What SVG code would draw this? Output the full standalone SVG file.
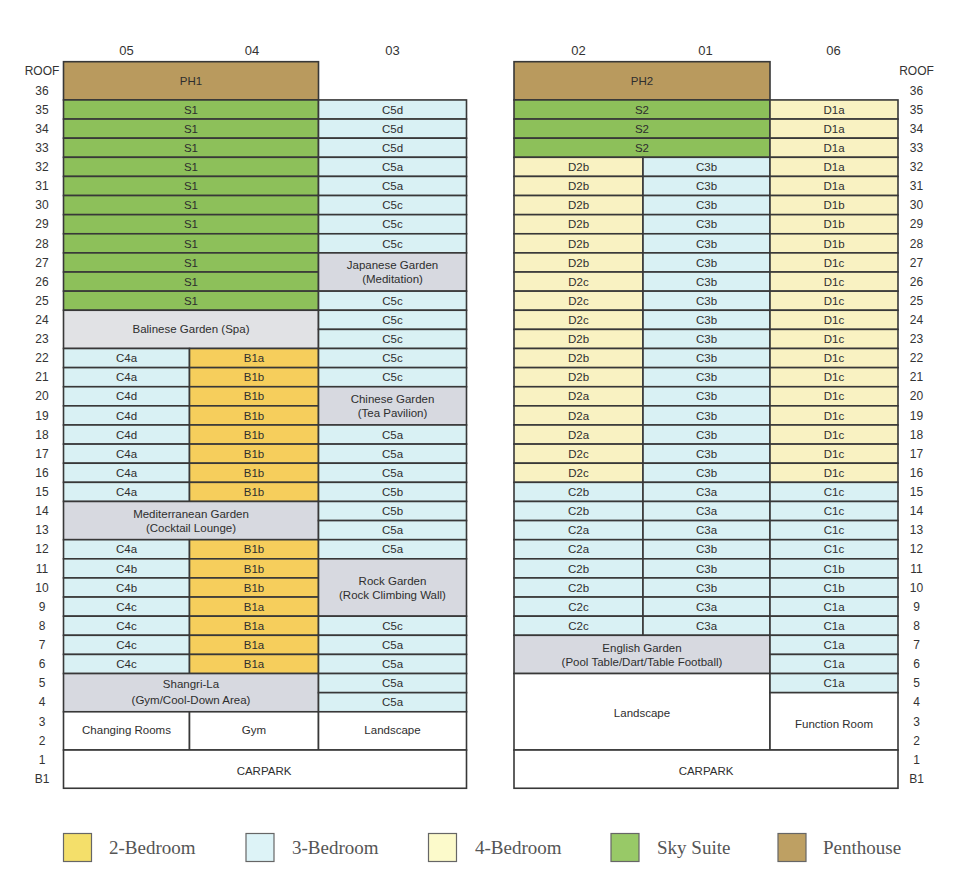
<svg xmlns="http://www.w3.org/2000/svg" width="960" height="893" viewBox="0 0 960 893">
<style>
rect.u{stroke:#383838;stroke-width:1.6}
.p{fill:#b99a5e}.s{fill:#8dc05a}.c3{fill:#d9f1f4}.d4{fill:#f9f2c2}.b2{fill:#f6ce5c}.g{fill:#d7d9e0}.gl{fill:#e1e2e5}.w{fill:#ffffff}
text{font-family:"Liberation Sans",Arial,sans-serif;font-size:11.5px;fill:#2e2e2e;text-anchor:middle}
text.f{font-size:12px;fill:#333}
text.h{font-size:13px;fill:#333}
text.lg{font-family:"Liberation Serif","Times New Roman",serif;font-size:19px;fill:#555;text-anchor:start}
rect.k{stroke:#666;stroke-width:1.2}
</style>
<rect width="960" height="893" fill="#ffffff"/>
<g id="headers">
<text class="h" x="126.5" y="55">05</text><text class="h" x="252" y="55">04</text><text class="h" x="392.5" y="55">03</text>
<text class="h" x="578.5" y="55">02</text><text class="h" x="705.5" y="55">01</text><text class="h" x="833.5" y="55">06</text>
</g>
<g id="floors-left">
<text class="f" x="42" y="75.4">ROOF</text><text class="f" x="42" y="94.5">36</text><text class="f" x="42" y="113.6">35</text><text class="f" x="42" y="132.8">34</text><text class="f" x="42" y="151.9">33</text><text class="f" x="42" y="171">32</text><text class="f" x="42" y="190.1">31</text><text class="f" x="42" y="209.2">30</text><text class="f" x="42" y="228.4">29</text><text class="f" x="42" y="247.5">28</text><text class="f" x="42" y="266.6">27</text><text class="f" x="42" y="285.7">26</text><text class="f" x="42" y="304.8">25</text><text class="f" x="42" y="324">24</text><text class="f" x="42" y="343.1">23</text><text class="f" x="42" y="362.2">22</text><text class="f" x="42" y="381.3">21</text><text class="f" x="42" y="400.4">20</text><text class="f" x="42" y="419.6">19</text><text class="f" x="42" y="438.7">18</text><text class="f" x="42" y="457.8">17</text><text class="f" x="42" y="476.9">16</text><text class="f" x="42" y="496">15</text><text class="f" x="42" y="515.2">14</text><text class="f" x="42" y="534.3">13</text><text class="f" x="42" y="553.4">12</text><text class="f" x="42" y="572.5">11</text><text class="f" x="42" y="591.6">10</text><text class="f" x="42" y="610.8">9</text><text class="f" x="42" y="629.9">8</text><text class="f" x="42" y="649">7</text><text class="f" x="42" y="668.1">6</text><text class="f" x="42" y="687.2">5</text><text class="f" x="42" y="706.4">4</text><text class="f" x="42" y="725.5">3</text><text class="f" x="42" y="744.6">2</text><text class="f" x="42" y="763.7">1</text><text class="f" x="42" y="782.8">B1</text>
</g>
<g id="floors-right">
<text class="f" x="916.5" y="75.4">ROOF</text><text class="f" x="916.5" y="94.5">36</text><text class="f" x="916.5" y="113.6">35</text><text class="f" x="916.5" y="132.8">34</text><text class="f" x="916.5" y="151.9">33</text><text class="f" x="916.5" y="171">32</text><text class="f" x="916.5" y="190.1">31</text><text class="f" x="916.5" y="209.2">30</text><text class="f" x="916.5" y="228.4">29</text><text class="f" x="916.5" y="247.5">28</text><text class="f" x="916.5" y="266.6">27</text><text class="f" x="916.5" y="285.7">26</text><text class="f" x="916.5" y="304.8">25</text><text class="f" x="916.5" y="324">24</text><text class="f" x="916.5" y="343.1">23</text><text class="f" x="916.5" y="362.2">22</text><text class="f" x="916.5" y="381.3">21</text><text class="f" x="916.5" y="400.4">20</text><text class="f" x="916.5" y="419.6">19</text><text class="f" x="916.5" y="438.7">18</text><text class="f" x="916.5" y="457.8">17</text><text class="f" x="916.5" y="476.9">16</text><text class="f" x="916.5" y="496">15</text><text class="f" x="916.5" y="515.2">14</text><text class="f" x="916.5" y="534.3">13</text><text class="f" x="916.5" y="553.4">12</text><text class="f" x="916.5" y="572.5">11</text><text class="f" x="916.5" y="591.6">10</text><text class="f" x="916.5" y="610.8">9</text><text class="f" x="916.5" y="629.9">8</text><text class="f" x="916.5" y="649">7</text><text class="f" x="916.5" y="668.1">6</text><text class="f" x="916.5" y="687.2">5</text><text class="f" x="916.5" y="706.4">4</text><text class="f" x="916.5" y="725.5">3</text><text class="f" x="916.5" y="744.6">2</text><text class="f" x="916.5" y="763.7">1</text><text class="f" x="916.5" y="782.8">B1</text>
</g>
<g id="left-building">
<g id="PH1"><rect class="u p" x="63.5" y="61.7" width="255" height="38.24"/><text x="191" y="85">PH1</text></g>
<g id="L35-S1"><rect class="u s" x="63.5" y="99.94" width="255" height="19.12"/><text x="191" y="113.6">S1</text></g>
<g id="L34-S1"><rect class="u s" x="63.5" y="119.06" width="255" height="19.12"/><text x="191" y="132.8">S1</text></g>
<g id="L33-S1"><rect class="u s" x="63.5" y="138.18" width="255" height="19.12"/><text x="191" y="151.9">S1</text></g>
<g id="L32-S1"><rect class="u s" x="63.5" y="157.3" width="255" height="19.12"/><text x="191" y="171">S1</text></g>
<g id="L31-S1"><rect class="u s" x="63.5" y="176.42" width="255" height="19.12"/><text x="191" y="190.1">S1</text></g>
<g id="L30-S1"><rect class="u s" x="63.5" y="195.54" width="255" height="19.12"/><text x="191" y="209.2">S1</text></g>
<g id="L29-S1"><rect class="u s" x="63.5" y="214.66" width="255" height="19.12"/><text x="191" y="228.4">S1</text></g>
<g id="L28-S1"><rect class="u s" x="63.5" y="233.78" width="255" height="19.12"/><text x="191" y="247.5">S1</text></g>
<g id="L27-S1"><rect class="u s" x="63.5" y="252.9" width="255" height="19.12"/><text x="191" y="266.6">S1</text></g>
<g id="L26-S1"><rect class="u s" x="63.5" y="272.02" width="255" height="19.12"/><text x="191" y="285.7">S1</text></g>
<g id="L25-S1"><rect class="u s" x="63.5" y="291.14" width="255" height="19.12"/><text x="191" y="304.8">S1</text></g>
<g id="Balinese"><rect class="u gl" x="63.5" y="310.26" width="255" height="38.24"/><text x="191" y="333.3">Balinese Garden (Spa)</text></g>
<g id="L22-05"><rect class="u c3" x="63.5" y="348.5" width="126" height="19.12"/><text x="126.5" y="362.2">C4a</text></g>
<g id="L21-05"><rect class="u c3" x="63.5" y="367.62" width="126" height="19.12"/><text x="126.5" y="381.3">C4a</text></g>
<g id="L20-05"><rect class="u c3" x="63.5" y="386.74" width="126" height="19.12"/><text x="126.5" y="400.4">C4d</text></g>
<g id="L19-05"><rect class="u c3" x="63.5" y="405.86" width="126" height="19.12"/><text x="126.5" y="419.6">C4d</text></g>
<g id="L18-05"><rect class="u c3" x="63.5" y="424.98" width="126" height="19.12"/><text x="126.5" y="438.7">C4d</text></g>
<g id="L17-05"><rect class="u c3" x="63.5" y="444.1" width="126" height="19.12"/><text x="126.5" y="457.8">C4a</text></g>
<g id="L16-05"><rect class="u c3" x="63.5" y="463.22" width="126" height="19.12"/><text x="126.5" y="476.9">C4a</text></g>
<g id="L15-05"><rect class="u c3" x="63.5" y="482.34" width="126" height="19.12"/><text x="126.5" y="496">C4a</text></g>
<g id="L22-04"><rect class="u b2" x="189.5" y="348.5" width="129" height="19.12"/><text x="254" y="362.2">B1a</text></g>
<g id="L21-04"><rect class="u b2" x="189.5" y="367.62" width="129" height="19.12"/><text x="254" y="381.3">B1b</text></g>
<g id="L20-04"><rect class="u b2" x="189.5" y="386.74" width="129" height="19.12"/><text x="254" y="400.4">B1b</text></g>
<g id="L19-04"><rect class="u b2" x="189.5" y="405.86" width="129" height="19.12"/><text x="254" y="419.6">B1b</text></g>
<g id="L18-04"><rect class="u b2" x="189.5" y="424.98" width="129" height="19.12"/><text x="254" y="438.7">B1b</text></g>
<g id="L17-04"><rect class="u b2" x="189.5" y="444.1" width="129" height="19.12"/><text x="254" y="457.8">B1b</text></g>
<g id="L16-04"><rect class="u b2" x="189.5" y="463.22" width="129" height="19.12"/><text x="254" y="476.9">B1b</text></g>
<g id="L15-04"><rect class="u b2" x="189.5" y="482.34" width="129" height="19.12"/><text x="254" y="496">B1b</text></g>
<g id="Mediterranean"><rect class="u g" x="63.5" y="501.46" width="255" height="38.24"/><text x="191" y="517.6">Mediterranean Garden</text><text x="191" y="531.8">(Cocktail Lounge)</text></g>
<g id="L12-05"><rect class="u c3" x="63.5" y="539.7" width="126" height="19.12"/><text x="126.5" y="553.4">C4a</text></g>
<g id="L11-05"><rect class="u c3" x="63.5" y="558.82" width="126" height="19.12"/><text x="126.5" y="572.5">C4b</text></g>
<g id="L10-05"><rect class="u c3" x="63.5" y="577.94" width="126" height="19.12"/><text x="126.5" y="591.6">C4b</text></g>
<g id="L9-05"><rect class="u c3" x="63.5" y="597.06" width="126" height="19.12"/><text x="126.5" y="610.8">C4c</text></g>
<g id="L8-05"><rect class="u c3" x="63.5" y="616.18" width="126" height="19.12"/><text x="126.5" y="629.9">C4c</text></g>
<g id="L7-05"><rect class="u c3" x="63.5" y="635.3" width="126" height="19.12"/><text x="126.5" y="649">C4c</text></g>
<g id="L6-05"><rect class="u c3" x="63.5" y="654.42" width="126" height="19.12"/><text x="126.5" y="668.1">C4c</text></g>
<g id="L12-04"><rect class="u b2" x="189.5" y="539.7" width="129" height="19.12"/><text x="254" y="553.4">B1b</text></g>
<g id="L11-04"><rect class="u b2" x="189.5" y="558.82" width="129" height="19.12"/><text x="254" y="572.5">B1b</text></g>
<g id="L10-04"><rect class="u b2" x="189.5" y="577.94" width="129" height="19.12"/><text x="254" y="591.6">B1b</text></g>
<g id="L9-04"><rect class="u b2" x="189.5" y="597.06" width="129" height="19.12"/><text x="254" y="610.8">B1a</text></g>
<g id="L8-04"><rect class="u b2" x="189.5" y="616.18" width="129" height="19.12"/><text x="254" y="629.9">B1a</text></g>
<g id="L7-04"><rect class="u b2" x="189.5" y="635.3" width="129" height="19.12"/><text x="254" y="649">B1a</text></g>
<g id="L6-04"><rect class="u b2" x="189.5" y="654.42" width="129" height="19.12"/><text x="254" y="668.1">B1a</text></g>
<g id="ShangriLa"><rect class="u g" x="63.5" y="673.54" width="255" height="38.24"/><text x="191" y="688">Shangri-La</text><text x="191" y="703.5">(Gym/Cool-Down Area)</text></g>
<g id="ChangingRooms"><rect class="u w" x="63.5" y="711.78" width="126" height="38.24"/><text x="126.5" y="734">Changing Rooms</text></g>
<g id="Gym"><rect class="u w" x="189.5" y="711.78" width="129" height="38.24"/><text x="254" y="734">Gym</text></g>
<g id="L35-03"><rect class="u c3" x="318.5" y="99.94" width="148" height="19.12"/><text x="392.5" y="113.6">C5d</text></g>
<g id="L34-03"><rect class="u c3" x="318.5" y="119.06" width="148" height="19.12"/><text x="392.5" y="132.8">C5d</text></g>
<g id="L33-03"><rect class="u c3" x="318.5" y="138.18" width="148" height="19.12"/><text x="392.5" y="151.9">C5d</text></g>
<g id="L32-03"><rect class="u c3" x="318.5" y="157.3" width="148" height="19.12"/><text x="392.5" y="171">C5a</text></g>
<g id="L31-03"><rect class="u c3" x="318.5" y="176.42" width="148" height="19.12"/><text x="392.5" y="190.1">C5a</text></g>
<g id="L30-03"><rect class="u c3" x="318.5" y="195.54" width="148" height="19.12"/><text x="392.5" y="209.2">C5c</text></g>
<g id="L29-03"><rect class="u c3" x="318.5" y="214.66" width="148" height="19.12"/><text x="392.5" y="228.4">C5c</text></g>
<g id="L28-03"><rect class="u c3" x="318.5" y="233.78" width="148" height="19.12"/><text x="392.5" y="247.5">C5c</text></g>
<g id="Japanese"><rect class="u g" x="318.5" y="252.9" width="148" height="38.24"/><text x="392.5" y="269">Japanese Garden</text><text x="392.5" y="283.3">(Meditation)</text></g>
<g id="L25-03"><rect class="u c3" x="318.5" y="291.14" width="148" height="19.12"/><text x="392.5" y="304.8">C5c</text></g>
<g id="L24-03"><rect class="u c3" x="318.5" y="310.26" width="148" height="19.12"/><text x="392.5" y="324">C5c</text></g>
<g id="L23-03"><rect class="u c3" x="318.5" y="329.38" width="148" height="19.12"/><text x="392.5" y="343.1">C5c</text></g>
<g id="L22-03"><rect class="u c3" x="318.5" y="348.5" width="148" height="19.12"/><text x="392.5" y="362.2">C5c</text></g>
<g id="L21-03"><rect class="u c3" x="318.5" y="367.62" width="148" height="19.12"/><text x="392.5" y="381.3">C5c</text></g>
<g id="Chinese"><rect class="u g" x="318.5" y="386.74" width="148" height="38.24"/><text x="392.5" y="402.9">Chinese Garden</text><text x="392.5" y="417.2">(Tea Pavilion)</text></g>
<g id="L18-03"><rect class="u c3" x="318.5" y="424.98" width="148" height="19.12"/><text x="392.5" y="438.7">C5a</text></g>
<g id="L17-03"><rect class="u c3" x="318.5" y="444.1" width="148" height="19.12"/><text x="392.5" y="457.8">C5a</text></g>
<g id="L16-03"><rect class="u c3" x="318.5" y="463.22" width="148" height="19.12"/><text x="392.5" y="476.9">C5a</text></g>
<g id="L15-03"><rect class="u c3" x="318.5" y="482.34" width="148" height="19.12"/><text x="392.5" y="496">C5b</text></g>
<g id="L14-03"><rect class="u c3" x="318.5" y="501.46" width="148" height="19.12"/><text x="392.5" y="515.2">C5b</text></g>
<g id="L13-03"><rect class="u c3" x="318.5" y="520.58" width="148" height="19.12"/><text x="392.5" y="534.3">C5a</text></g>
<g id="L12-03"><rect class="u c3" x="318.5" y="539.7" width="148" height="19.12"/><text x="392.5" y="553.4">C5a</text></g>
<g id="RockGarden"><rect class="u g" x="318.5" y="558.82" width="148" height="57.36"/><text x="392.5" y="584.8">Rock Garden</text><text x="392.5" y="598.6">(Rock Climbing Wall)</text></g>
<g id="L8-03"><rect class="u c3" x="318.5" y="616.18" width="148" height="19.12"/><text x="392.5" y="629.9">C5c</text></g>
<g id="L7-03"><rect class="u c3" x="318.5" y="635.3" width="148" height="19.12"/><text x="392.5" y="649">C5a</text></g>
<g id="L6-03"><rect class="u c3" x="318.5" y="654.42" width="148" height="19.12"/><text x="392.5" y="668.1">C5a</text></g>
<g id="L5-03"><rect class="u c3" x="318.5" y="673.54" width="148" height="19.12"/><text x="392.5" y="687.2">C5a</text></g>
<g id="L4-03"><rect class="u c3" x="318.5" y="692.66" width="148" height="19.12"/><text x="392.5" y="706.4">C5a</text></g>
<g id="LandscapeL"><rect class="u w" x="318.5" y="711.78" width="148" height="38.24"/><text x="392.5" y="734">Landscape</text></g>
<g id="CarparkL"><rect class="u w" x="63.5" y="750.02" width="403" height="38.24"/><text x="264" y="774.5">CARPARK</text></g>
</g>
<g id="right-building">
<g id="PH2"><rect class="u p" x="514" y="61.7" width="256" height="38.24"/><text x="642" y="85">PH2</text></g>
<g id="R35-S2"><rect class="u s" x="514" y="99.94" width="256" height="19.12"/><text x="642" y="113.6">S2</text></g>
<g id="R34-S2"><rect class="u s" x="514" y="119.06" width="256" height="19.12"/><text x="642" y="132.8">S2</text></g>
<g id="R33-S2"><rect class="u s" x="514" y="138.18" width="256" height="19.12"/><text x="642" y="151.9">S2</text></g>
<g id="R32-02"><rect class="u d4" x="514" y="157.3" width="129" height="19.12"/><text x="578.5" y="171">D2b</text></g>
<g id="R31-02"><rect class="u d4" x="514" y="176.42" width="129" height="19.12"/><text x="578.5" y="190.1">D2b</text></g>
<g id="R30-02"><rect class="u d4" x="514" y="195.54" width="129" height="19.12"/><text x="578.5" y="209.2">D2b</text></g>
<g id="R29-02"><rect class="u d4" x="514" y="214.66" width="129" height="19.12"/><text x="578.5" y="228.4">D2b</text></g>
<g id="R28-02"><rect class="u d4" x="514" y="233.78" width="129" height="19.12"/><text x="578.5" y="247.5">D2b</text></g>
<g id="R27-02"><rect class="u d4" x="514" y="252.9" width="129" height="19.12"/><text x="578.5" y="266.6">D2b</text></g>
<g id="R26-02"><rect class="u d4" x="514" y="272.02" width="129" height="19.12"/><text x="578.5" y="285.7">D2c</text></g>
<g id="R25-02"><rect class="u d4" x="514" y="291.14" width="129" height="19.12"/><text x="578.5" y="304.8">D2c</text></g>
<g id="R24-02"><rect class="u d4" x="514" y="310.26" width="129" height="19.12"/><text x="578.5" y="324">D2c</text></g>
<g id="R23-02"><rect class="u d4" x="514" y="329.38" width="129" height="19.12"/><text x="578.5" y="343.1">D2b</text></g>
<g id="R22-02"><rect class="u d4" x="514" y="348.5" width="129" height="19.12"/><text x="578.5" y="362.2">D2b</text></g>
<g id="R21-02"><rect class="u d4" x="514" y="367.62" width="129" height="19.12"/><text x="578.5" y="381.3">D2b</text></g>
<g id="R20-02"><rect class="u d4" x="514" y="386.74" width="129" height="19.12"/><text x="578.5" y="400.4">D2a</text></g>
<g id="R19-02"><rect class="u d4" x="514" y="405.86" width="129" height="19.12"/><text x="578.5" y="419.6">D2a</text></g>
<g id="R18-02"><rect class="u d4" x="514" y="424.98" width="129" height="19.12"/><text x="578.5" y="438.7">D2a</text></g>
<g id="R17-02"><rect class="u d4" x="514" y="444.1" width="129" height="19.12"/><text x="578.5" y="457.8">D2c</text></g>
<g id="R16-02"><rect class="u d4" x="514" y="463.22" width="129" height="19.12"/><text x="578.5" y="476.9">D2c</text></g>
<g id="R15-02"><rect class="u c3" x="514" y="482.34" width="129" height="19.12"/><text x="578.5" y="496">C2b</text></g>
<g id="R14-02"><rect class="u c3" x="514" y="501.46" width="129" height="19.12"/><text x="578.5" y="515.2">C2b</text></g>
<g id="R13-02"><rect class="u c3" x="514" y="520.58" width="129" height="19.12"/><text x="578.5" y="534.3">C2a</text></g>
<g id="R12-02"><rect class="u c3" x="514" y="539.7" width="129" height="19.12"/><text x="578.5" y="553.4">C2a</text></g>
<g id="R11-02"><rect class="u c3" x="514" y="558.82" width="129" height="19.12"/><text x="578.5" y="572.5">C2b</text></g>
<g id="R10-02"><rect class="u c3" x="514" y="577.94" width="129" height="19.12"/><text x="578.5" y="591.6">C2b</text></g>
<g id="R9-02"><rect class="u c3" x="514" y="597.06" width="129" height="19.12"/><text x="578.5" y="610.8">C2c</text></g>
<g id="R8-02"><rect class="u c3" x="514" y="616.18" width="129" height="19.12"/><text x="578.5" y="629.9">C2c</text></g>
<g id="R32-01"><rect class="u c3" x="643" y="157.3" width="127" height="19.12"/><text x="706.5" y="171">C3b</text></g>
<g id="R31-01"><rect class="u c3" x="643" y="176.42" width="127" height="19.12"/><text x="706.5" y="190.1">C3b</text></g>
<g id="R30-01"><rect class="u c3" x="643" y="195.54" width="127" height="19.12"/><text x="706.5" y="209.2">C3b</text></g>
<g id="R29-01"><rect class="u c3" x="643" y="214.66" width="127" height="19.12"/><text x="706.5" y="228.4">C3b</text></g>
<g id="R28-01"><rect class="u c3" x="643" y="233.78" width="127" height="19.12"/><text x="706.5" y="247.5">C3b</text></g>
<g id="R27-01"><rect class="u c3" x="643" y="252.9" width="127" height="19.12"/><text x="706.5" y="266.6">C3b</text></g>
<g id="R26-01"><rect class="u c3" x="643" y="272.02" width="127" height="19.12"/><text x="706.5" y="285.7">C3b</text></g>
<g id="R25-01"><rect class="u c3" x="643" y="291.14" width="127" height="19.12"/><text x="706.5" y="304.8">C3b</text></g>
<g id="R24-01"><rect class="u c3" x="643" y="310.26" width="127" height="19.12"/><text x="706.5" y="324">C3b</text></g>
<g id="R23-01"><rect class="u c3" x="643" y="329.38" width="127" height="19.12"/><text x="706.5" y="343.1">C3b</text></g>
<g id="R22-01"><rect class="u c3" x="643" y="348.5" width="127" height="19.12"/><text x="706.5" y="362.2">C3b</text></g>
<g id="R21-01"><rect class="u c3" x="643" y="367.62" width="127" height="19.12"/><text x="706.5" y="381.3">C3b</text></g>
<g id="R20-01"><rect class="u c3" x="643" y="386.74" width="127" height="19.12"/><text x="706.5" y="400.4">C3b</text></g>
<g id="R19-01"><rect class="u c3" x="643" y="405.86" width="127" height="19.12"/><text x="706.5" y="419.6">C3b</text></g>
<g id="R18-01"><rect class="u c3" x="643" y="424.98" width="127" height="19.12"/><text x="706.5" y="438.7">C3b</text></g>
<g id="R17-01"><rect class="u c3" x="643" y="444.1" width="127" height="19.12"/><text x="706.5" y="457.8">C3b</text></g>
<g id="R16-01"><rect class="u c3" x="643" y="463.22" width="127" height="19.12"/><text x="706.5" y="476.9">C3b</text></g>
<g id="R15-01"><rect class="u c3" x="643" y="482.34" width="127" height="19.12"/><text x="706.5" y="496">C3a</text></g>
<g id="R14-01"><rect class="u c3" x="643" y="501.46" width="127" height="19.12"/><text x="706.5" y="515.2">C3a</text></g>
<g id="R13-01"><rect class="u c3" x="643" y="520.58" width="127" height="19.12"/><text x="706.5" y="534.3">C3a</text></g>
<g id="R12-01"><rect class="u c3" x="643" y="539.7" width="127" height="19.12"/><text x="706.5" y="553.4">C3b</text></g>
<g id="R11-01"><rect class="u c3" x="643" y="558.82" width="127" height="19.12"/><text x="706.5" y="572.5">C3b</text></g>
<g id="R10-01"><rect class="u c3" x="643" y="577.94" width="127" height="19.12"/><text x="706.5" y="591.6">C3b</text></g>
<g id="R9-01"><rect class="u c3" x="643" y="597.06" width="127" height="19.12"/><text x="706.5" y="610.8">C3a</text></g>
<g id="R8-01"><rect class="u c3" x="643" y="616.18" width="127" height="19.12"/><text x="706.5" y="629.9">C3a</text></g>
<g id="English"><rect class="u g" x="514" y="635.3" width="256" height="38.24"/><text x="642" y="651.8">English Garden</text><text x="642" y="666.4">(Pool Table/Dart/Table Football)</text></g>
<g id="LandscapeR"><rect class="u w" x="514" y="673.54" width="256" height="76.48"/><text x="642" y="717.4">Landscape</text></g>
<g id="R35-06"><rect class="u d4" x="770" y="99.94" width="128" height="19.12"/><text x="834" y="113.6">D1a</text></g>
<g id="R34-06"><rect class="u d4" x="770" y="119.06" width="128" height="19.12"/><text x="834" y="132.8">D1a</text></g>
<g id="R33-06"><rect class="u d4" x="770" y="138.18" width="128" height="19.12"/><text x="834" y="151.9">D1a</text></g>
<g id="R32-06"><rect class="u d4" x="770" y="157.3" width="128" height="19.12"/><text x="834" y="171">D1a</text></g>
<g id="R31-06"><rect class="u d4" x="770" y="176.42" width="128" height="19.12"/><text x="834" y="190.1">D1a</text></g>
<g id="R30-06"><rect class="u d4" x="770" y="195.54" width="128" height="19.12"/><text x="834" y="209.2">D1b</text></g>
<g id="R29-06"><rect class="u d4" x="770" y="214.66" width="128" height="19.12"/><text x="834" y="228.4">D1b</text></g>
<g id="R28-06"><rect class="u d4" x="770" y="233.78" width="128" height="19.12"/><text x="834" y="247.5">D1b</text></g>
<g id="R27-06"><rect class="u d4" x="770" y="252.9" width="128" height="19.12"/><text x="834" y="266.6">D1c</text></g>
<g id="R26-06"><rect class="u d4" x="770" y="272.02" width="128" height="19.12"/><text x="834" y="285.7">D1c</text></g>
<g id="R25-06"><rect class="u d4" x="770" y="291.14" width="128" height="19.12"/><text x="834" y="304.8">D1c</text></g>
<g id="R24-06"><rect class="u d4" x="770" y="310.26" width="128" height="19.12"/><text x="834" y="324">D1c</text></g>
<g id="R23-06"><rect class="u d4" x="770" y="329.38" width="128" height="19.12"/><text x="834" y="343.1">D1c</text></g>
<g id="R22-06"><rect class="u d4" x="770" y="348.5" width="128" height="19.12"/><text x="834" y="362.2">D1c</text></g>
<g id="R21-06"><rect class="u d4" x="770" y="367.62" width="128" height="19.12"/><text x="834" y="381.3">D1c</text></g>
<g id="R20-06"><rect class="u d4" x="770" y="386.74" width="128" height="19.12"/><text x="834" y="400.4">D1c</text></g>
<g id="R19-06"><rect class="u d4" x="770" y="405.86" width="128" height="19.12"/><text x="834" y="419.6">D1c</text></g>
<g id="R18-06"><rect class="u d4" x="770" y="424.98" width="128" height="19.12"/><text x="834" y="438.7">D1c</text></g>
<g id="R17-06"><rect class="u d4" x="770" y="444.1" width="128" height="19.12"/><text x="834" y="457.8">D1c</text></g>
<g id="R16-06"><rect class="u d4" x="770" y="463.22" width="128" height="19.12"/><text x="834" y="476.9">D1c</text></g>
<g id="R15-06"><rect class="u c3" x="770" y="482.34" width="128" height="19.12"/><text x="834" y="496">C1c</text></g>
<g id="R14-06"><rect class="u c3" x="770" y="501.46" width="128" height="19.12"/><text x="834" y="515.2">C1c</text></g>
<g id="R13-06"><rect class="u c3" x="770" y="520.58" width="128" height="19.12"/><text x="834" y="534.3">C1c</text></g>
<g id="R12-06"><rect class="u c3" x="770" y="539.7" width="128" height="19.12"/><text x="834" y="553.4">C1c</text></g>
<g id="R11-06"><rect class="u c3" x="770" y="558.82" width="128" height="19.12"/><text x="834" y="572.5">C1b</text></g>
<g id="R10-06"><rect class="u c3" x="770" y="577.94" width="128" height="19.12"/><text x="834" y="591.6">C1b</text></g>
<g id="R9-06"><rect class="u c3" x="770" y="597.06" width="128" height="19.12"/><text x="834" y="610.8">C1a</text></g>
<g id="R8-06"><rect class="u c3" x="770" y="616.18" width="128" height="19.12"/><text x="834" y="629.9">C1a</text></g>
<g id="R7-06"><rect class="u c3" x="770" y="635.3" width="128" height="19.12"/><text x="834" y="649">C1a</text></g>
<g id="R6-06"><rect class="u c3" x="770" y="654.42" width="128" height="19.12"/><text x="834" y="668.1">C1a</text></g>
<g id="R5-06"><rect class="u c3" x="770" y="673.54" width="128" height="19.12"/><text x="834" y="687.2">C1a</text></g>
<g id="FunctionRoom"><rect class="u w" x="770" y="692.66" width="128" height="57.36"/><text x="834" y="728.4">Function Room</text></g>
<g id="CarparkR"><rect class="u w" x="514" y="750.02" width="384" height="38.24"/><text x="706" y="774.5">CARPARK</text></g>
</g>
<g id="legend">
<g id="lg-2bed"><rect class="k" x="63.5" y="833.5" width="28" height="28" fill="#f4df6a"/><text class="lg" x="109" y="854">2-Bedroom</text></g>
<g id="lg-3bed"><rect class="k" x="246" y="833.5" width="28" height="28" fill="#ddf3f7"/><text class="lg" x="292" y="854">3-Bedroom</text></g>
<g id="lg-4bed"><rect class="k" x="428.5" y="833.5" width="28" height="28" fill="#fcfacb"/><text class="lg" x="475" y="854">4-Bedroom</text></g>
<g id="lg-sky"><rect class="k" x="611" y="833.5" width="28" height="28" fill="#98c967"/><text class="lg" x="657" y="854">Sky Suite</text></g>
<g id="lg-ph"><rect class="k" x="778" y="833.5" width="28" height="28" fill="#bea063"/><text class="lg" x="823" y="854">Penthouse</text></g>
</g>
</svg>
